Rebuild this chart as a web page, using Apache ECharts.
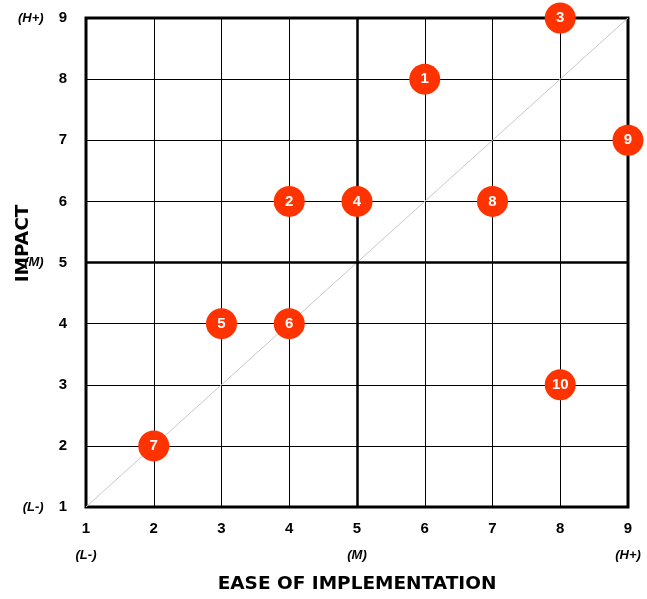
<!DOCTYPE html>
<html>
<head>
<meta charset="utf-8">
<script src="https://cdn.jsdelivr.net/npm/echarts@6/dist/echarts.min.js"></script>
<style>
  html, body { margin: 0; padding: 0; background: #fff; }
  #chart { width: 647px; height: 599px; }
</style>
</head>
<body>
<div id="chart"></div>
<script>
// Initiative ids with their ease (x) and impact (y) scores
const ids    = ['1', '2', '3', '4', '5', '6', '7', '8', '9', '10'];
const ease   = [6, 4, 8, 5, 3, 4, 2, 7, 9, 8];
const impact = [8, 6, 9, 6, 4, 4, 2, 6, 7, 3];

// Scale bounds and level tags shown under/next to the ticks
const scaleMin = 1;
const scaleMid = 5;
const scaleMax = 9;
const levelTags = { 1: '(L-)', 5: '(M)', 9: '(H+)' };

const xTitle = 'EASE OF IMPLEMENTATION';
const yTitle = 'IMPACT';

const points = ids.map((id, i) => [ease[i], impact[i], id]);

const font = 'Liberation Sans, Arial, sans-serif';
const titleFont = 'DejaVu Sans, Verdana, sans-serif';

const chart = echarts.init(document.getElementById('chart'));
chart.setOption({
  animation: false,
  grid: {
    left: 86, right: 19, top: 18, bottom: 92,
    containLabel: false,
    outerBoundsMode: 'none',
    show: true, borderColor: '#000', borderWidth: 3
  },
  xAxis: {
    type: 'value', min: scaleMin, max: scaleMax, interval: 1,
    name: xTitle, nameLocation: 'middle', nameGap: 68,
    nameTextStyle: { fontFamily: titleFont, fontWeight: 'bold', fontSize: 18.5, color: '#000' },
    axisLine: { show: false },
    axisTick: { show: false },
    splitLine: { show: true, lineStyle: { color: '#000', width: 1 } },
    axisLabel: {
      margin: 8,
      formatter: v => levelTags[v] ? '{v|' + v + '}\n{s|' + levelTags[v] + '}' : '{v|' + v + '}',
      rich: {
        v: { fontFamily: font, fontWeight: 'bold', fontSize: 15, color: '#000', lineHeight: 27 },
        s: { fontFamily: font, fontWeight: 'bold', fontStyle: 'italic', fontSize: 13, color: '#000', lineHeight: 27 }
      }
    }
  },
  yAxis: {
    type: 'value', min: scaleMin, max: scaleMax, interval: 1,
    name: yTitle, nameLocation: 'middle', nameGap: 53, nameRotate: 90,
    nameMoveOverlap: false,
    nameTextStyle: { fontFamily: titleFont, fontWeight: 'bold', fontSize: 18.5, color: '#000', padding: [0, 0, 0, 38] },
    axisLine: { show: false },
    axisTick: { show: false },
    splitLine: { show: true, lineStyle: { color: '#000', width: 1 } },
    axisLabel: {
      margin: 19,
      formatter: v => levelTags[v] ? '{s|' + levelTags[v] + '}{v|' + v + '}' : '{v|' + v + '}',
      rich: {
        v: { fontFamily: font, fontWeight: 'bold', fontSize: 15, color: '#000' },
        s: { fontFamily: font, fontWeight: 'bold', fontStyle: 'italic', fontSize: 13, color: '#000', padding: [0, 15, 0, 0] }
      }
    }
  },
  series: [
    {
      // diagonal reference line
      type: 'line',
      data: [[scaleMin, scaleMin], [scaleMax, scaleMax]],
      symbol: 'none',
      silent: true,
      lineStyle: { color: '#c8c8c8', width: 1 },
      z: 1,
      markLine: {
        silent: true,
        symbol: 'none',
        label: { show: false },
        lineStyle: { color: '#000', width: 2.5, type: 'solid' },
        data: [{ xAxis: scaleMid }, { yAxis: scaleMid }]
      }
    },
    {
      type: 'scatter',
      data: points,
      symbol: 'circle',
      symbolSize: 31,
      itemStyle: { color: '#ff3300', opacity: 1 },
      label: {
        show: true,
        position: 'inside',
        formatter: p => p.value[2],
        fontFamily: font, fontWeight: 'bold', fontSize: 15, color: '#fff'
      },
      z: 5
    }
  ]
});
</script>
</body>
</html>
